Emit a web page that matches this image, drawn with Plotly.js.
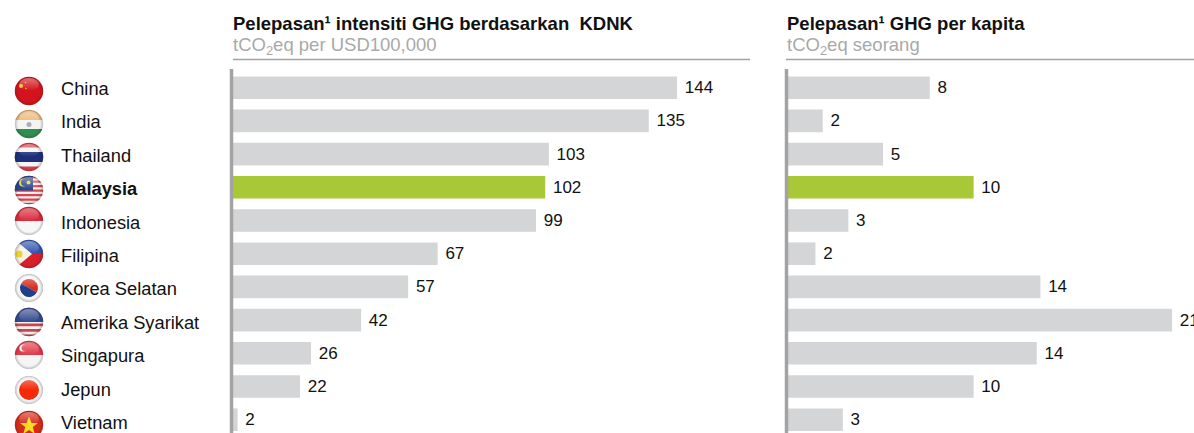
<!DOCTYPE html>
<html><head><meta charset="utf-8">
<script src="https://cdn.plot.ly/plotly-3.0.1.min.js"></script>
<style>html,body{margin:0;padding:0;background:#fff;overflow:hidden}#c{width:1194px;height:433px}</style>
</head><body><div id="c"></div>
<script>
const countries = ["China","India","Thailand","Malaysia","Indonesia","Filipina","Korea Selatan","Amerika Syarikat","Singapura","Jepun","Vietnam"];
const intensityLabels = [144,135,103,102,99,67,57,42,26,22,2];
const intensityValues = [144.5,135.3,102.8,101.6,98.6,66.6,57.0,41.7,25.4,21.8,1.5];
const perCapitaLabels = [8,2,5,10,3,2,14,21,14,10,3];
const perCapitaValues = [7.75,1.9,5.2,10.15,3.3,1.5,13.8,21.0,13.6,10.15,3.0];
const highlight = "Malaysia";
const titleLeft = "<b>Pelepasan\u00b9 intensiti GHG berdasarkan  KDNK</b>";
const subLeft = "tCO<sub>2</sub>eq per USD100,000";
const titleRight = "<b>Pelepasan\u00b9 GHG per kapita</b>";
const subRight = "tCO<sub>2</sub>eq seorang";

const W=1194,H=433;
const FONT='"Liberation Sans", Arial, sans-serif';
const GREY='#d4d5d7',GREEN='#a8c837',AXIS='#a3a3a3';
const px=v=>v/W, py=v=>1-v/H;
const rowTop=87.700,rowStep=33.2;
const yRange=[(H-rowTop)/rowStep,-rowTop/rowStep];
const lblTop=88.5,lblStep=33.4;
const yRange3=[(H-lblTop)/lblStep,-lblTop/lblStep];

function flagBody(n){
 const r=(x,y,w,h,c)=>`<rect x="${x}" y="${y}" width="${w}" height="${h}" fill="${c}"/>`;
 switch(n){
  case "China": return r(0,0,60,60,'#d3141c')+'<circle cx="14" cy="20" r="4" fill="#f0c020"/><circle cx="23" cy="13" r="1.5" fill="#f0c020"/><circle cx="24" cy="25" r="1.5" fill="#f0c020"/>';
  case "India": return r(0,0,60,22,'#eeb878')+r(0,22,60,18,'#f4f4f2')+r(0,40,60,20,'#2f8f50')+'<circle cx="30" cy="31" r="5" fill="#a6adbc"/>';
  case "Thailand": return r(0,0,60,60,'#d8404a')+r(0,11,60,38,'#f4f4f4')+r(0,20,60,20,'#1c2f78');
  case "Malaysia": { let s=r(0,0,60,60,'#f4f0ee'); for(let i=0;i<7;i++) s+=r(0,i*9+2,60,4.5,'#d74650'); return s+r(0,0,38,31,'#27458f')+'<circle cx="18" cy="15" r="8" fill="#e8d040"/><circle cx="21" cy="15" r="7" fill="#27458f"/><circle cx="29" cy="15" r="4" fill="#e8d040"/>'; }
  case "Indonesia": return r(0,0,60,30,'#d92a3c')+r(0,30,60,30,'#f7f7f7');
  case "Filipina": return r(0,0,60,30,'#2f55b0')+r(0,30,60,30,'#d8202c')+'<path d="M0 0L36 30L0 60Z" fill="#f5f3e8"/><circle cx="10" cy="30" r="7" fill="#f0d030"/>';
  case "Korea Selatan": return r(0,0,60,60,'#f6f6f6')+'<path d="M12 30a18 18 0 0 1 36 0z" fill="#d8301f" transform="rotate(30 30 30)"/><path d="M12 30a18 18 0 0 0 36 0z" fill="#1f3f88" transform="rotate(30 30 30)"/>';
  case "Amerika Syarikat": { let s=r(0,0,60,60,'#f4f0f0'); for(let i=0;i<6;i++) s+=r(0,i*11,60,5.5,'#c84450'); return s+r(0,0,60,30,'#33498f'); }
  case "Singapura": return r(0,0,60,30,'#e03a48')+r(0,30,60,30,'#f5f5f6')+'<circle cx="18" cy="16" r="7" fill="#f5f5f6"/><circle cx="21" cy="16" r="6" fill="#e03a48"/>';
  case "Jepun": return r(0,0,60,60,'#f8f8f8')+'<circle cx="30" cy="30" r="20" fill="#f42a0a"/>';
  case "Vietnam": return r(0,0,60,60,'#d82a18')+'<path d="M30 13l5 13h13l-10.500 8 4 14-11.500-8-11.500 8 4-14-10.500-8h13z" fill="#f8dc20"/>';
 }
}
function flagUri(n){
 const svg=`<svg xmlns="http://www.w3.org/2000/svg" width="60" height="60" viewBox="0 0 60 60"><defs><clipPath id="k"><circle cx="30" cy="30" r="28.500"/></clipPath><radialGradient id="g" cx="50%" cy="50%" r="50%"><stop offset="78%" stop-color="#000" stop-opacity="0"/><stop offset="100%" stop-color="#333" stop-opacity=".28"/></radialGradient><linearGradient id="h" x1="0" y1="0" x2="0" y2="1"><stop offset="0" stop-color="#fff" stop-opacity=".4"/><stop offset="1" stop-color="#fff" stop-opacity="0"/></linearGradient></defs><g clip-path="url(#k)">${flagBody(n)}<circle cx="30" cy="30" r="28.500" fill="url(#g)"/><ellipse cx="30" cy="17" rx="20" ry="13" fill="url(#h)"/></g></svg>`;
 return 'data:image/svg+xml;base64,'+btoa(svg);
}
const flagCentres=[91,124,157,190,221,254,288,322,355,390,425];

const barColors=countries.map(c=>c===highlight?GREEN:GREY);
const barTrace=(vals,labels,xa)=>({type:'bar',orientation:'h',x:vals,y:countries,xaxis:xa,yaxis:xa==='x'?'y':'y2',
  marker:{color:barColors,line:{width:0}},width:0.68,
  text:labels.map(v=>'\u00a0'+v),textposition:'outside',cliponaxis:false,constraintext:'none',
  textfont:{family:FONT,size:17,color:'#111'},hoverinfo:'skip',showlegend:false});

const hdr=(x,y,t,size,col)=>({xref:'paper',yref:'paper',x:px(x),y:py(y),text:t,showarrow:false,xanchor:'left',yanchor:'middle',align:'left',font:{family:FONT,size:size,color:col},borderpad:0});

const annotations=[
 hdr(232,24,titleLeft,18.5,'#111'),hdr(232,46.500,subLeft,18.5,'#a9a9a9'),
 hdr(786,24,titleRight,18.5,'#111'),hdr(786,46.500,subRight,18.5,'#a9a9a9'),
 ...countries.map(c=>({xref:'paper',yref:'y3',x:px(60),y:c,text:c===highlight?`<b>${c}</b>`:c,showarrow:false,xanchor:'left',yanchor:'middle',font:{family:FONT,size:18.3,color:'#111'},borderpad:0}))
];
const line=(x0,y0,x1,y1,w)=>({type:'line',xref:'paper',yref:'paper',x0:px(x0),x1:px(x1),y0:py(y0),y1:py(y1),line:{color:AXIS,width:w},layer:'above'});

const hiddenY={visible:false,type:'category',categoryorder:'array',categoryarray:countries,fixedrange:true};
Plotly.newPlot('c',[
 barTrace(intensityValues,intensityLabels,'x'),
 barTrace(perCapitaValues,perCapitaLabels,'x2'),
 {type:'scatter',mode:'none',x:countries.map(()=>0),y:countries,xaxis:'x',yaxis:'y3',hoverinfo:'skip',showlegend:false}
],{
 width:W,height:H,margin:{l:0,r:0,t:0,b:0},paper_bgcolor:'#fff',plot_bgcolor:'#fff',showlegend:false,
 font:{family:FONT},
 xaxis:{domain:[px(233),px(750)],range:[0,517/3.073],visible:false,fixedrange:true},
 xaxis2:{domain:[px(788),1],range:[0,406/18.29],visible:false,fixedrange:true},
 yaxis:{...hiddenY,range:yRange,anchor:'x'},
 yaxis2:{...hiddenY,range:yRange,anchor:'x2'},
 yaxis3:{...hiddenY,range:yRange3,anchor:'x',overlaying:'y'},
 annotations,
 shapes:[line(233,59.500,750,59.500,1.500),line(786,59.500,1194,59.500,1.500),line(231.500,69,231.500,433,3.500),line(786.500,69,786.500,433,3.500)],
 images:countries.map((c,i)=>({source:flagUri(c),xref:'paper',yref:'paper',x:px(29),y:py(flagCentres[i]),sizex:30/W,sizey:30/H,xanchor:'center',yanchor:'middle',sizing:'contain',layer:'above'}))
},{displayModeBar:false,staticPlot:true});
</script></body></html>
